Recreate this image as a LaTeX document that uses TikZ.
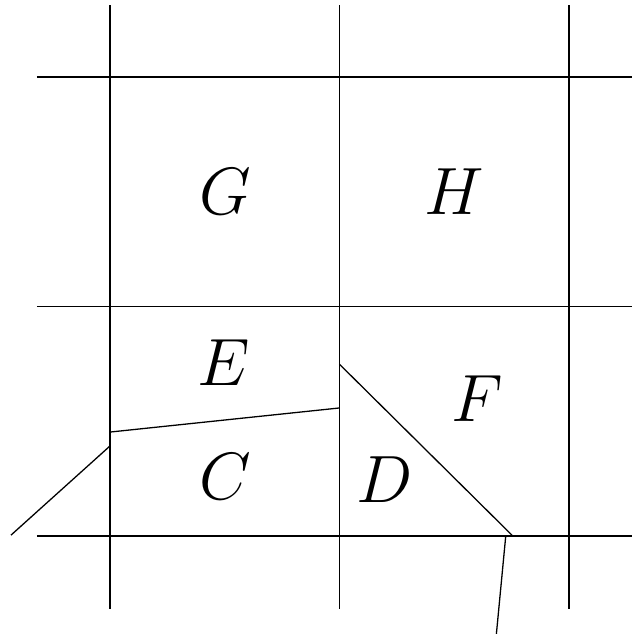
\documentclass[tikz,border=0pt]{standalone}
\usepackage{tikz}

\begin{document}
\begin{tikzpicture}[
  x=2.5cm, y=2.5cm,
  grid/.style={line width=0.45pt},
  cut/.style={line width=0.4pt},
  region/.style={anchor=base, inner sep=0pt, font=\fontsize{20}{24}\selectfont},
]
  \useasboundingbox (-0.479,-0.427) rectangle (2.275,2.336);

  % grid lines
  \foreach \k in {0,1,2} {
    \draw[grid] (\k,-0.316) -- (\k,2.316);
    \draw[grid] (-0.318,\k) -- (2.4,\k);
  }

  % cuts through the cells
  \coordinate (ec1) at (0,0.453);
  \coordinate (ec2) at (1,0.558);
  \coordinate (df1) at (1,0.749);
  \coordinate (df2) at (1.756,0);
  \coordinate (ll1) at (0,0.392);
  \coordinate (ll2) at (-0.431,0.004);
  \coordinate (lb1) at (1.725,0);
  \coordinate (lb2) at (1.682,-0.45);
  \draw[cut] (ec1) -- (ec2);
  \draw[cut] (df1) -- (df2);
  \draw[cut] (ll1) -- (ll2);
  \draw[cut] (lb1) -- (lb2);

  % region labels
  \node[region] (g) at (0.501,1.399) {$G$};
  \node[region] (h) at (1.499,1.399) {$H$};
  \node[region] (e) at (0.497,0.658) {$E$};
  \node[region] (f) at (1.599,0.497) {$F$};
  \node[region] (c) at (0.501,0.157) {$C$};
  \node[region] (d) at (1.198,0.148) {$D$};
\end{tikzpicture}
\end{document}
